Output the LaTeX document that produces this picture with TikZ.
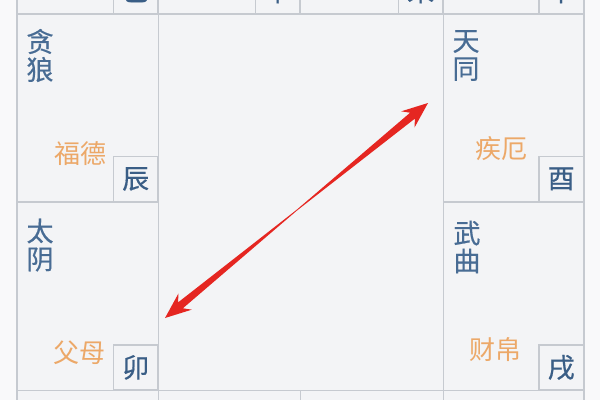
\documentclass[tikz,border=0pt]{standalone}
\usepackage{fontspec}
\newfontfamily\cjk{Noto Sans CJK SC}
\newfontfamily\cjkm[FakeBold=0.5]{Noto Sans CJK SC}
\usepackage{tikz}
\usetikzlibrary{calc}
\usepackage{xcolor}

\definecolor{starblue}{RGB}{72,108,148}
\definecolor{branchblue}{RGB}{58,94,134}
\definecolor{palaceorange}{RGB}{236,168,104}
\definecolor{gridgray}{RGB}{198,202,208}
\definecolor{cellbg}{RGB}{243,244,246}
\definecolor{pagebg}{RGB}{249,249,250}
\definecolor{arrowred}{RGB}{229,38,33}

\tikzset{
  star/.style={text=starblue, font=\cjkm\fontsize{27}{28}\selectfont, align=center, inner sep=0pt},
  palace/.style={text=palaceorange, font=\cjk\fontsize{26}{28}\selectfont, inner sep=0pt},
  branch/.style={draw=gridgray, line width=1.1pt, text=branchblue, font=\cjkm\fontsize{27}{28}\selectfont,
    minimum width=44.5pt, minimum height=45pt, inner sep=0pt, anchor=south east},
  gridline/.style={gridgray, line width=1.1pt}
}

\begin{document}
\begin{tikzpicture}[x=1pt,y=-1pt]
    \useasboundingbox[fill=pagebg] (0,0) rectangle (600,400);
    \fill[cellbg] (17,0) rectangle (584,400);

      % Grid
      \draw[gridline] (17,0) -- (17,400);
      \draw[gridline] (158.5,0) -- (158.5,400);
      \draw[gridline] (443.5,0) -- (443.5,400);
      \draw[gridline] (584,0) -- (584,400);
      \draw[gridline] (300.5,0) -- (300.5,14);
      \draw[gridline] (300.5,390.5) -- (300.5,400);
      \draw[gridline] (17,14) -- (584,14);
      \draw[gridline] (17,202) -- (158.5,202);
      \draw[gridline] (443.5,202) -- (584,202);
      \draw[gridline] (17,390.5) -- (584,390.5);

      % Branches
      \node[branch] (si)   at (158.5,14)  {巳};
      \node[branch] (wu)   at (300.5,14)  {午};
      \node[branch] (wei)  at (443.5,14)  {未};
      \node[branch] (shen) at (584,14)    {申};
      \node[branch] (chen) at (158.5,202) {辰};
      \node[branch] (you)  at (584,202)   {酉};
      \node[branch] (mao)  at (158.5,390.5) {卯};
      \node[branch] (xu)   at (584,390.5) {戌};

      % Stars
      \node[star] (tanlang)  at (40,55.5)  {贪\\狼};
      \node[star] (tiantong) at (466,55.5) {天\\同};
      \node[star] (taiyin)   at (40,245)   {太\\阴};
      \node[star] (wuqu)     at (467,247)  {武\\曲};

      % Palaces
      \node[palace] (fude)   at (80.5,153.5) {福德};
      \node[palace] (jie)    at (501,148.5)  {疾厄};
      \node[palace] (fumu)   at (79.5,352.5) {父母};
      \node[palace] (caibo)  at (495.5,350)  {财帛};

      % Arrow
      \coordinate (mid) at (297,210);
      \coordinate (hi) at (428,103);
      \coordinate (lo) at (165,318);
      \coordinate (hiw) at ($(hi)!26pt!(mid)$);
      \coordinate (hib) at ($(hi)!20pt!(mid)$);
      \coordinate (low) at ($(lo)!26pt!(mid)$);
      \coordinate (lob) at ($(lo)!20pt!(mid)$);
      \fill[arrowred] (hi) -- ($(hiw)!10.5pt!90:(hi)$) -- ($(hib)!3.8pt!90:(hi)$)
        -- ($(mid)!0.4pt!90:(hi)$) -- ($(mid)!0.4pt!-90:(hi)$)
        -- ($(hib)!3.8pt!-90:(hi)$) -- ($(hiw)!10.5pt!-90:(hi)$) -- cycle;
      \fill[arrowred] (lo) -- ($(low)!10.5pt!90:(lo)$) -- ($(lob)!3.8pt!90:(lo)$)
        -- ($(mid)!0.4pt!90:(lo)$) -- ($(mid)!0.4pt!-90:(lo)$)
        -- ($(lob)!3.8pt!-90:(lo)$) -- ($(low)!10.5pt!-90:(lo)$) -- cycle;
  \end{tikzpicture}
\end{document}
